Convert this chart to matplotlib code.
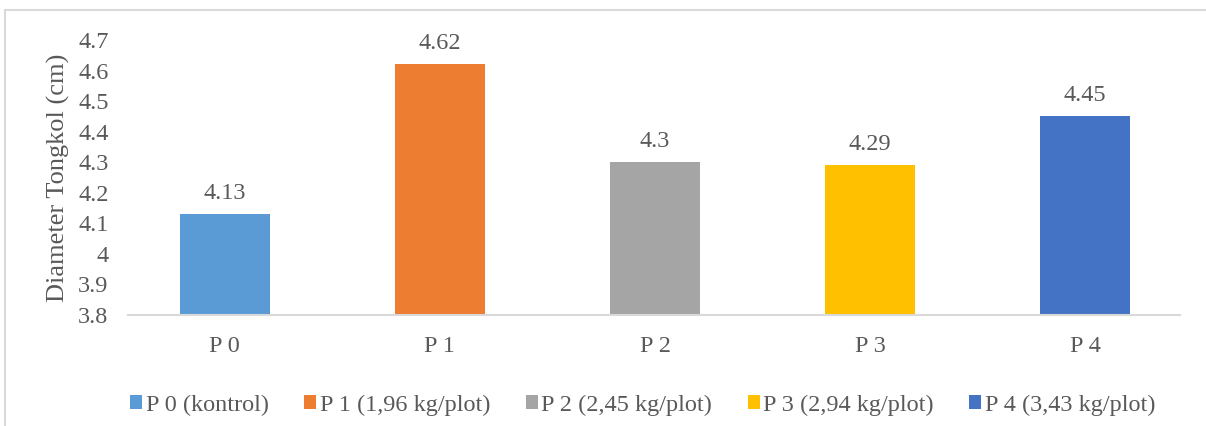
import matplotlib.pyplot as plt
from matplotlib.patches import Rectangle

categories = ["P 0", "P 1", "P 2", "P 3", "P 4"]
legend_labels = ["P 0 (kontrol)", "P 1 (1,96 kg/plot)", "P 2 (2,45 kg/plot)",
                 "P 3 (2,94 kg/plot)", "P 4 (3,43 kg/plot)"]
diameter = [4.13, 4.62, 4.30, 4.29, 4.45]
value_text = ["4.13", "4.62", "4.3", "4.29", "4.45"]
colors = ["#5B9BD5", "#ED7D31", "#A5A5A5", "#FFC000", "#4472C4"]

plt.rcParams['font.family'] = ['Liberation Serif', 'DejaVu Serif']
txt = "#595959"

fig = plt.figure(figsize=(12.06, 4.26), dpi=100)
ax = fig.add_axes([0.1061, 0.2606, 0.8723, 0.6455])

bars = []
for i in range(len(categories)):
    b = ax.bar(i, diameter[i], width=0.42, color=colors[i], label=legend_labels[i], zorder=2)
    bars.append(b)
    ax.bar_label(b, labels=[value_text[i]], padding=7.5, fontsize=17.5, color=txt)

ax.set_ylim(3.8, 4.7)
ax.set_xlim(-0.45, 4.44)
ax.set_yticks([3.8, 3.9, 4.0, 4.1, 4.2, 4.3, 4.4, 4.5, 4.6, 4.7])
ax.set_yticklabels(["3.8", "3.9", "4", "4.1", "4.2", "4.3", "4.4", "4.5", "4.6", "4.7"])
ax.set_xticks(range(len(categories)))
ax.set_xticklabels(categories)
ax.tick_params(axis='y', length=0, pad=14, labelsize=17.5, labelcolor=txt)
ax.tick_params(axis='x', length=0, pad=15, labelsize=17.5, labelcolor=txt)

for s in ["top", "right", "left"]:
    ax.spines[s].set_visible(False)
ax.spines["bottom"].set_color("#D9D9D9")
ax.spines["bottom"].set_linewidth(1.5)

ax.set_ylabel("Diameter Tongkol (cm)", fontsize=19, color=txt)
ax.yaxis.set_label_coords(-0.055, 0.5)

fig.legend(handles=bars, labels=legend_labels, loc="center", bbox_to_anchor=(0.533, 0.049),
           ncol=5, frameon=False, fontsize=17.5, labelcolor=txt,
           handlelength=0.5, handleheight=0.5, handletextpad=0.15, columnspacing=1.45)

# chart area border
fig.patches.append(Rectangle((0.004, -0.1), 1.2, 0.1 + 1 - 10 / 426, transform=fig.transFigure,
                             fill=False, edgecolor="#D9D9D9", linewidth=1.5))

fig.savefig("out.png", dpi=100)
